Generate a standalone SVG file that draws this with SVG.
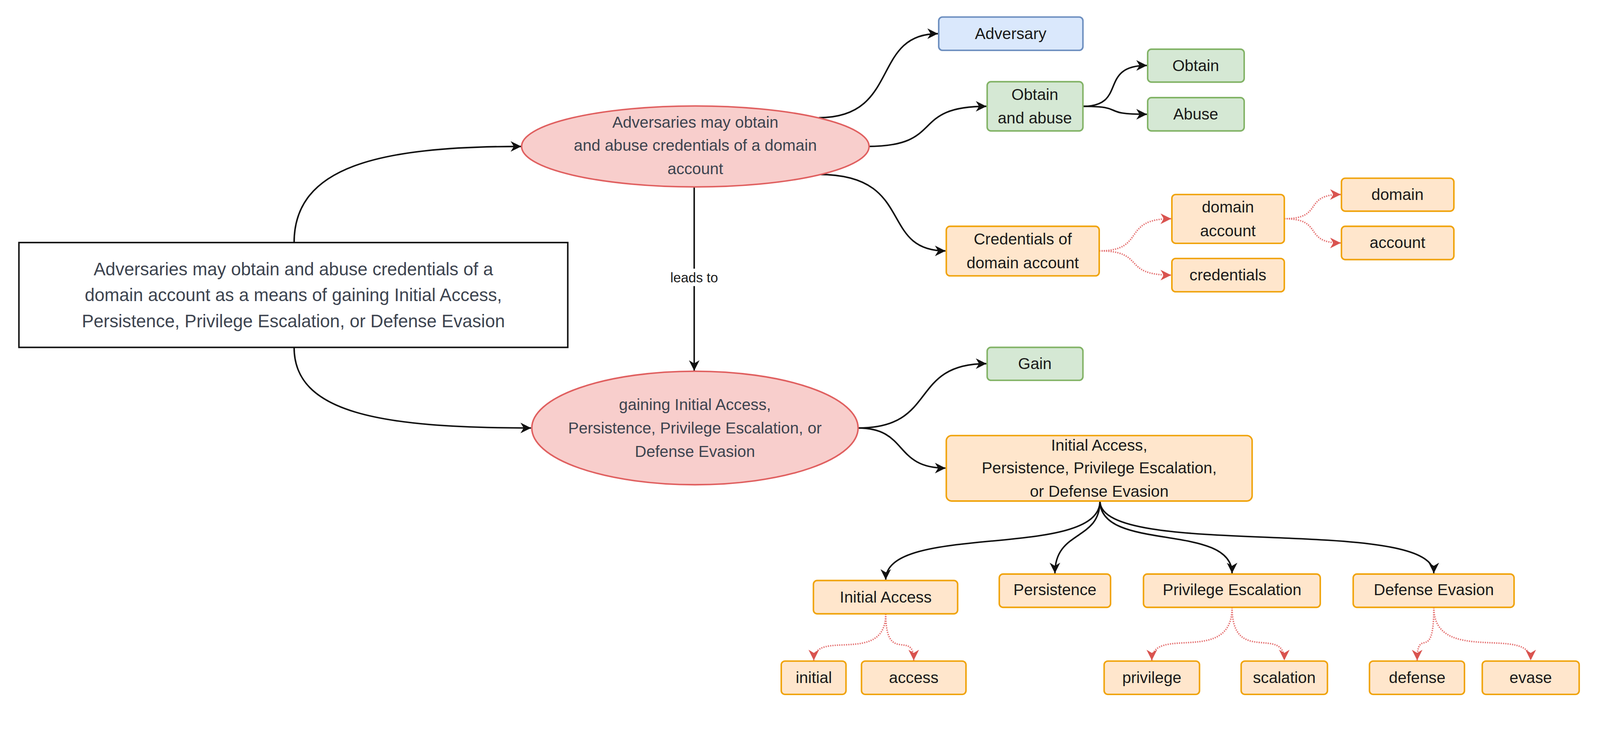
<svg xmlns="http://www.w3.org/2000/svg" width="4229" height="1877" viewBox="0 0 4229 1877">
<style>
text{font-family:"Liberation Sans",Arial,sans-serif;font-size:42px;fill:#1a1a1a;text-anchor:middle;dominant-baseline:central}
.g text,.e text{fill:#3d4450}
.blue{fill:#dae8fc;stroke:#6c8ebf;stroke-width:4}
.green{fill:#d5e8d4;stroke:#82b366;stroke-width:4}
.orange{fill:#ffe6cc;stroke:#f0a30a;stroke-width:4}
.ell{fill:#f8cecc;stroke:#e06060;stroke-width:4}
.blk{fill:none;stroke:#111;stroke-width:4;marker-end:url(#ab)}
.red{fill:none;stroke:#e57373;stroke-width:4;stroke-dasharray:3 3;marker-end:url(#ar)}
</style>
<defs>
<marker id="ab" viewBox="0 0 10 10" refX="10" refY="5" markerWidth="7" markerHeight="7" orient="auto" markerUnits="strokeWidth"><path d="M0,0 L10,5 L0,10 L3,5 z" fill="#111"/></marker>
<marker id="ar" viewBox="0 0 10 10" refX="10" refY="5" markerWidth="7" markerHeight="7" orient="auto" markerUnits="strokeWidth"><path d="M0,0 L10,5 L0,10 L3,5 z" fill="#d9534f"/></marker>
</defs>
<rect width="4229" height="1877" fill="#fff"/>
<g transform="scale(0.969)">
<g id="connectors">
<path class="blk" d="M777,641 C777,440 1000,387 1377,387"/>
<path class="blk" d="M777,918 C777,1090 1000,1131 1403,1131"/>
<path class="blk" d="M1834,493 L1834,980"/>
<rect x="1740" y="710" width="190" height="46" fill="#fff"/>
<text x="1834" y="733" style="font-size:36px">leads to</text>
<path class="blk" d="M2163,311 C2380,311 2300,89 2478,89"/>
<path class="blk" d="M2291,387 C2500,387 2400,281 2606,281"/>
<path class="blk" d="M2163,461 C2420,461 2320,663 2498,663"/>
<path class="blk" d="M2861,281 C2980,281 2900,173 3030,173"/>
<path class="blk" d="M2861,281 C2980,281 2900,302 3030,302"/>
<path class="red" d="M2904,663 C3030,663 2960,578 3094,578"/>
<path class="red" d="M2904,663 C3030,663 2960,727 3094,727"/>
<path class="red" d="M3393,578 C3500,578 3440,514 3542,514"/>
<path class="red" d="M3393,578 C3500,578 3440,642 3542,642"/>
<path class="blk" d="M2267,1131 C2480,1131 2400,961 2606,961"/>
<path class="blk" d="M2267,1131 C2400,1131 2360,1237 2498,1237"/>
<path class="blk" d="M2906,1324 C2906,1480 2340,1380 2340,1532"/>
<path class="blk" d="M2906,1324 C2906,1430 2787,1400 2787,1515"/>
<path class="blk" d="M2906,1324 C2906,1460 3255,1380 3255,1515"/>
<path class="blk" d="M2906,1324 C2906,1480 3788,1360 3788,1515"/>
<path class="red" d="M2340,1622 C2340,1760 2150,1660 2150,1745"/>
<path class="red" d="M2340,1622 C2340,1760 2414,1660 2414,1745"/>
<path class="red" d="M3255,1605 C3255,1760 3043,1650 3043,1745"/>
<path class="red" d="M3255,1605 C3255,1760 3393,1650 3393,1745"/>
<path class="red" d="M3788,1605 C3788,1760 3744,1650 3744,1745"/>
<path class="red" d="M3788,1605 C3788,1760 4044,1650 4044,1745"/>
</g>
<g id="main" class="g"><rect x="50" y="641" width="1450" height="277" fill="#fff" stroke="#111" stroke-width="4"/>
<text x="775" y="712" style="font-size:47px">Adversaries may obtain and abuse credentials of a</text>
<text x="775" y="780" style="font-size:47px">domain account as a means of gaining Initial Access,</text>
<text x="775" y="849" style="font-size:47px">Persistence, Privilege Escalation, or Defense Evasion</text></g>
<g id="ell1" class="e"><ellipse class="ell" cx="1837" cy="387" rx="459" ry="107"/>
<text x="1837" y="323">Adversaries may obtain</text><text x="1837" y="384">and abuse credentials of a domain</text><text x="1837" y="446">account</text></g>
<g id="ell2" class="e"><ellipse class="ell" cx="1836" cy="1131" rx="431" ry="150"/>
<text x="1836" y="1069">gaining Initial Access,</text><text x="1836" y="1131">Persistence, Privilege Escalation, or</text><text x="1836" y="1193">Defense Evasion</text></g>
<g id="adversary"><rect class="blue" x="2480" y="45" width="381" height="88" rx="10"/><text x="2670" y="89">Adversary</text></g>
<g id="obtainabuse"><rect class="green" x="2608" y="216" width="253" height="130" rx="10"/><text x="2734" y="250">Obtain</text><text x="2734" y="312">and abuse</text></g>
<g id="obtain"><rect class="green" x="3032" y="130" width="255" height="87" rx="10"/><text x="3159" y="173">Obtain</text></g>
<g id="abuse"><rect class="green" x="3032" y="258" width="255" height="88" rx="10"/><text x="3159" y="301">Abuse</text></g>
<g id="creds"><rect class="orange" x="2500" y="598" width="404" height="131" rx="10"/><text x="2702" y="632">Credentials of</text><text x="2702" y="695">domain account</text></g>
<g id="domacc"><rect class="orange" x="3096" y="514" width="297" height="129" rx="10"/><text x="3244" y="547">domain</text><text x="3244" y="610">account</text></g>
<g id="credentials"><rect class="orange" x="3096" y="683" width="297" height="88" rx="10"/><text x="3244" y="727">credentials</text></g>
<g id="domain"><rect class="orange" x="3544" y="471" width="297" height="87" rx="10"/><text x="3692" y="514">domain</text></g>
<g id="account"><rect class="orange" x="3544" y="598" width="297" height="88" rx="10"/><text x="3692" y="641">account</text></g>
<g id="gain"><rect class="green" x="2608" y="918" width="253" height="87" rx="10"/><text x="2734" y="961">Gain</text></g>
<g id="big"><rect class="orange" x="2500" y="1151" width="808" height="173" rx="14"/><text x="2904" y="1176">Initial Access,</text><text x="2904" y="1236">Persistence, Privilege Escalation,</text><text x="2904" y="1298">or Defense Evasion</text></g>
<g id="ia"><rect class="orange" x="2149" y="1534" width="381" height="88" rx="10"/><text x="2340" y="1578">Initial Access</text></g>
<g id="pers"><rect class="orange" x="2640" y="1517" width="294" height="88" rx="10"/><text x="2787" y="1558">Persistence</text></g>
<g id="pe"><rect class="orange" x="3021" y="1517" width="467" height="88" rx="10"/><text x="3255" y="1558">Privilege Escalation</text></g>
<g id="de"><rect class="orange" x="3575" y="1517" width="425" height="88" rx="10"/><text x="3788" y="1558">Defense Evasion</text></g>
<g id="initial"><rect class="orange" x="2064" y="1747" width="171" height="88" rx="10"/><text x="2150" y="1790">initial</text></g>
<g id="access"><rect class="orange" x="2276" y="1747" width="276" height="88" rx="10"/><text x="2414" y="1790">access</text></g>
<g id="privilege"><rect class="orange" x="2917" y="1747" width="252" height="88" rx="10"/><text x="3043" y="1790">privilege</text></g>
<g id="scalation"><rect class="orange" x="3279" y="1747" width="228" height="88" rx="10"/><text x="3393" y="1790">scalation</text></g>
<g id="defense"><rect class="orange" x="3618" y="1747" width="251" height="88" rx="10"/><text x="3744" y="1790">defense</text></g>
<g id="evase"><rect class="orange" x="3916" y="1747" width="256" height="88" rx="10"/><text x="4044" y="1790">evase</text></g>
</g>
</svg>
